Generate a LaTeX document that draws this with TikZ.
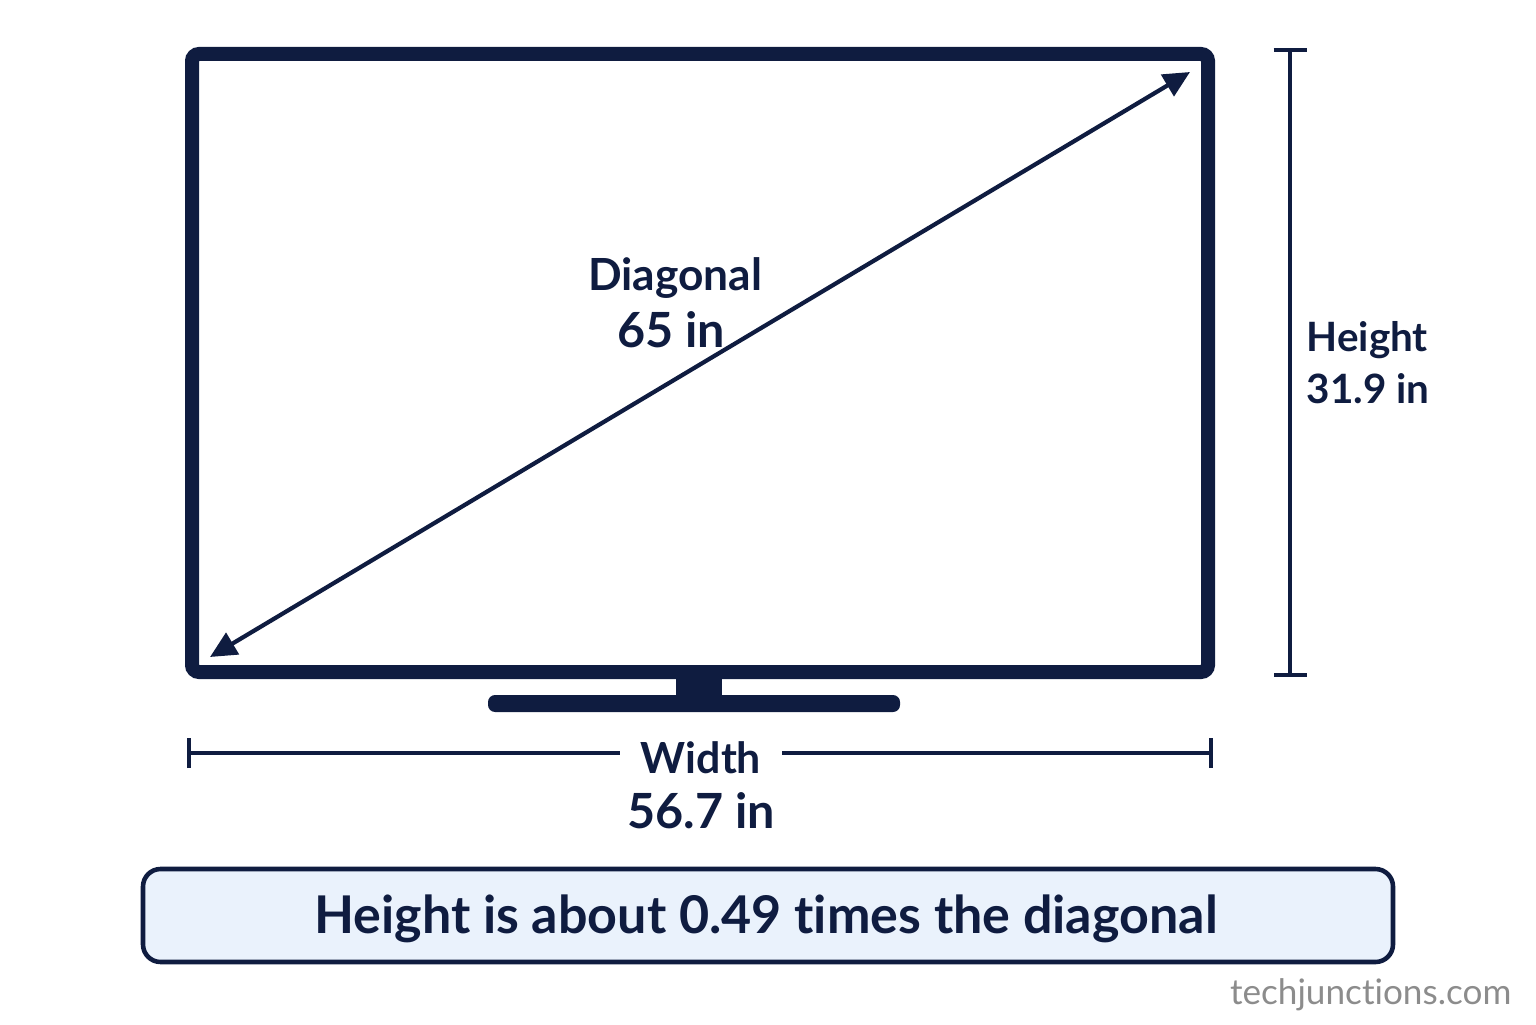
\documentclass[tikz,border=0pt]{standalone}
\usepackage{fontspec}
\setmainfont[Ligatures=NoCommon]{Lato}
\usetikzlibrary{arrows.meta, positioning}
\definecolor{navy}{HTML}{0F1C40}
\definecolor{boxblue}{HTML}{EAF2FC}
\definecolor{mark}{HTML}{8C8C8C}

\begin{document}
\begin{tikzpicture}[
        >=Stealth,
        lbl/.style={font=\fontsize{12.6}{14}\selectfont\bfseries, text=navy, inner sep=0pt, anchor=base},
        val/.style={lbl, font=\fontsize{13.8}{15}\selectfont\bfseries},
        dim/.style={navy, line width=1.2pt},
        diag/.style={{Triangle[length=7.5pt,width=7pt]}-{Triangle[length=7.5pt,width=7pt]}, navy, line width=1.2pt}
    ]
        \useasboundingbox (0,0) rectangle (15.36,10.24);

        % televisie: kader en voet
        \draw[navy, line width=0.14cm, rounded corners=2pt] (1.92,3.52) rectangle (12.08,9.70);
        \fill[navy] (6.76,3.46) rectangle (7.22,3.26);
        \fill[navy, rounded corners=2pt] (4.88,3.29) rectangle (9.00,3.12);

        % diagonaal
        \coordinate (d1) at (2.10,3.67);
        \coordinate (d2) at (11.90,9.52);
        \draw[diag] (d1) -- (d2);
        \path
            (6.75,7.34) node[lbl] (diagname) {Diagonal}
            (6.71,6.77) node[val] (diagval) {65 in};

        % hoogte
        \coordinate (h1) at (12.90,9.76);
        \coordinate (h2) at (12.90,3.47);
        \draw[dim, {Bar[width=3.3mm]}-{Bar[width=3.3mm]}] (h1) -- (h2);
        \path
            (13.06,6.72) node[lbl, anchor=base west, font=\fontsize{11.5}{13}\selectfont\bfseries] (hname) {Height}
            (13.06,6.21) node[lbl, anchor=base west, font=\fontsize{11.5}{13}\selectfont\bfseries] (hval) {31.9 in};

        % breedte
        \coordinate (w1) at (1.87,2.71);
        \coordinate (w2) at (12.13,2.71);
        \path
            (7.01,2.51) node[lbl, font=\fontsize{12.2}{14}\selectfont\bfseries] (wname) {Width}
            (7.01,1.96) node[val] (wval) {56.7 in};
        \draw[dim, {Bar[width=3mm]}-] (w1) -- (6.20,2.71);
        \draw[dim, -{Bar[width=3mm]}] (7.82,2.71) -- (w2);

        % conclusie
        \draw[navy, fill=boxblue, line width=1.3pt, rounded corners=5pt] (1.43,0.62) rectangle (13.93,1.55);
        \node[lbl, font=\fontsize{14.8}{17}\selectfont\bfseries] (summary) at (7.66,0.91) {Height is about 0.49 times the diagonal};

        \node[anchor=base east, inner sep=0pt, text=mark, font=\fontsize{10}{12}\selectfont] (site) at (15.12,0.20) {techjunctions.com};
    \end{tikzpicture}
\end{document}
